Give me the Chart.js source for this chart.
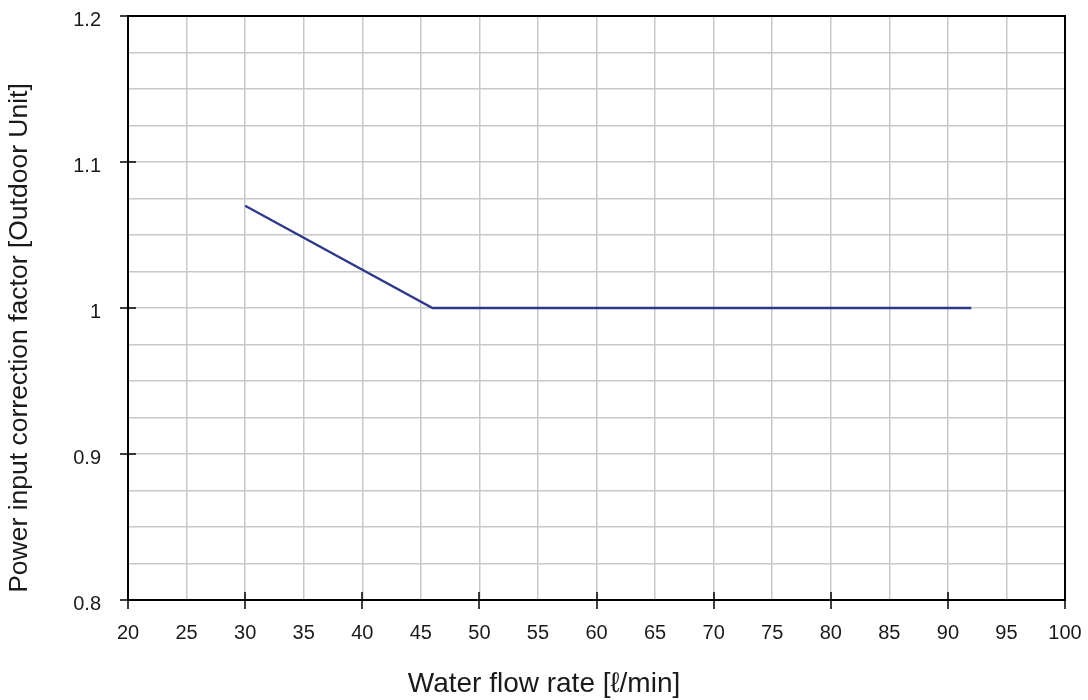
<!DOCTYPE html>
<html>
<head>
<meta charset="utf-8">
<script src="https://cdn.jsdelivr.net/npm/chart.js@4"></script>
<style>
  html, body { margin: 0; padding: 0; background: #fff; }
  #wrap { width: 1088px; height: 700px; }
</style>
</head>
<body>
<div id="wrap"><canvas id="flow-chart" width="1088" height="700"></canvas></div>
<script>
const flowRates = [30, 46, 92];
const correctionFactors = [1.07, 1.0, 1.0];
const xTitle = "Water flow rate [ℓ/min]";
const yTitle = "Power input correction factor [Outdoor Unit]";

const fontFamily = "'Liberation Sans', Arial, sans-serif";

// ticks that cross the axis line, the frame around the plot, and the axis titles
// (titles are centred on the page, not on the plot, in the original)
const frameAndTicks = {
    id: 'frameAndTicks',
    afterDraw(chart) {
        const c = chart.ctx;
        const area = chart.chartArea;
        const xs = chart.scales.x;
        const ys = chart.scales.y;
        c.save();
        c.strokeStyle = '#000';
        c.lineWidth = 2;
        c.strokeRect(area.left, area.top, area.right - area.left, area.bottom - area.top);
        c.lineWidth = 1.5;
        c.beginPath();
        for (const t of xs.ticks) {
            if (Math.round(t.value) % 10 !== 0) continue;
            const px = Math.round(xs.getPixelForValue(t.value));
            c.moveTo(px, area.bottom - 8);
            c.lineTo(px, area.bottom + 9);
        }
        for (const t of ys.ticks) {
            if (Math.abs(t.value * 10 - Math.round(t.value * 10)) > 1e-6) continue;
            const py = Math.round(ys.getPixelForValue(t.value));
            c.moveTo(area.left - 8, py);
            c.lineTo(area.left + 8, py);
        }
        c.stroke();

        c.fillStyle = '#1a1a1a';
        c.textAlign = 'center';
        c.textBaseline = 'alphabetic';
        c.font = "28px " + fontFamily;
        c.fillText(xTitle, chart.width / 2, 692);

        c.translate(27, 338);
        c.rotate(-Math.PI / 2);
        c.font = "26.5px " + fontFamily;
        c.fillText(yTitle, 0, 0);
        c.restore();
    }
};

const ctx = document.getElementById('flow-chart');

const chart = new Chart(ctx, {
    type: 'scatter',
    data: {
        datasets: [{
            data: flowRates.map((x, i) => ({ x: x, y: correctionFactors[i] })),
            showLine: true,
            borderColor: '#2e3888',
            borderWidth: 2.3,
            pointRadius: 0,
            tension: 0
        }]
    },
    options: {
        responsive: false,
        animation: false,
        layout: { padding: { top: 16, right: 23, left: 0, bottom: 0 } },
        scales: {
            x: {
                type: 'linear',
                min: 20,
                max: 100,
                afterFit: (scale) => {
                    scale.height = 100;
                    scale.paddingLeft = 0;
                    scale.paddingRight = 0;
                },
                ticks: {
                    stepSize: 5,
                    padding: 21,
                    color: '#1a1a1a',
                    font: { family: fontFamily, size: 20 },
                    maxRotation: 0
                },
                grid: {
                    color: '#c8c8c8',
                    lineWidth: 1.5,
                    drawTicks: false
                },
                border: { display: false },
                title: { display: false }
            },
            y: {
                min: 0.8,
                max: 1.2,
                afterFit: (scale) => {
                    scale.width = 128;
                    scale.paddingTop = 0;
                    scale.paddingBottom = 0;
                },
                ticks: {
                    stepSize: 0.025,
                    padding: 27,
                    labelOffset: 4,
                    color: '#1a1a1a',
                    font: { family: fontFamily, size: 20 },
                    callback: function (value) {
                        const v = Math.round(value * 1000) / 1000;
                        if (Math.abs(v * 10 - Math.round(v * 10)) > 1e-6) return '';
                        return String(Math.round(v * 10) / 10);
                    }
                },
                grid: {
                    color: '#c8c8c8',
                    lineWidth: 1.5,
                    drawTicks: false
                },
                border: { display: false },
                title: { display: false }
            }
        },
        plugins: {
            legend: { display: false },
            tooltip: { enabled: false }
        }
    },
    plugins: [frameAndTicks]
});
</script>
</body>
</html>
